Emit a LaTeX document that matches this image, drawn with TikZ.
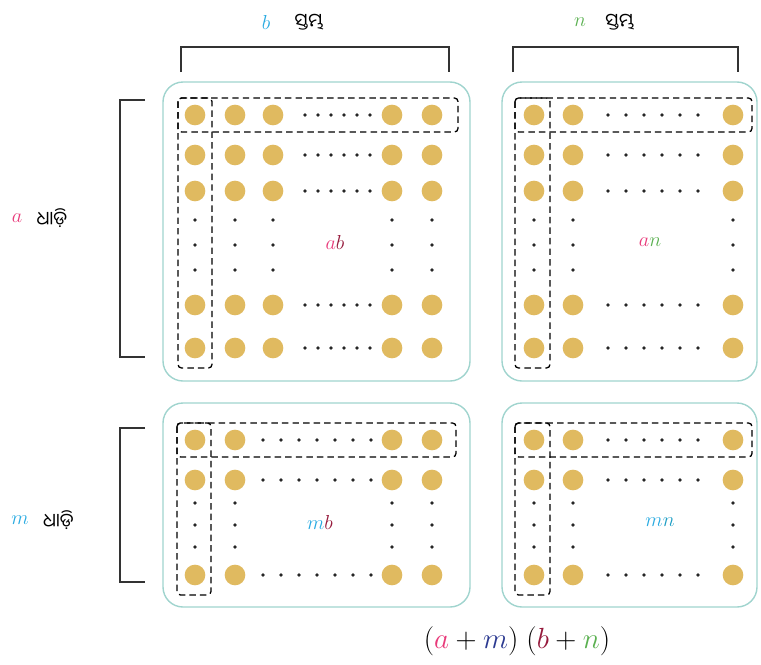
\documentclass[tikz,border=0pt]{standalone}
\usepackage{amsmath, amssymb}
\usepackage{xcolor}
\usepackage{fontspec}
\usepackage{tikz}
\usetikzlibrary{positioning}
\newfontfamily\odiafont[Script=Oriya]{Noto Sans Oriya UI}
\definecolor{tealline}{RGB}{160, 212, 206}
\definecolor{goldfill}{RGB}{224, 186, 96}
\definecolor{pinka}{RGB}{232, 58, 122}
\definecolor{cyanb}{RGB}{40, 170, 225}
\definecolor{greenn}{RGB}{90, 176, 80}
\definecolor{redb}{RGB}{150, 26, 60}
\definecolor{bluem}{RGB}{43, 57, 144}

\begin{document}
\begin{tikzpicture}[x=0.03cm, y=-0.03cm,
   panel/.style={draw=tealline, line width=1.2pt, rounded corners=0.6cm},
   bead/.style={circle, fill=goldfill, inner sep=0pt, minimum size=0.62cm},
   speck/.style={circle, fill=black!85, inner sep=0pt, minimum size=0.11cm},
   strip/.style={draw=black, line width=1.1pt, dash pattern=on 5.5pt off 3.5pt, rounded corners=3pt},
   brace/.style={draw=black!80, line width=1.1pt},
   var/.style={font=\fontsize{18}{21}\selectfont, inner sep=1pt},
   odia/.style={font=\odiafont\fontsize{16}{19}\selectfont, inner sep=1pt}]
  \useasboundingbox (0,0) rectangle (761,664);

  % panels
  \draw[panel] (163,82) rectangle (470,381);
  \draw[panel] (502,82) rectangle (757,381);
  \draw[panel] (163,403) rectangle (470,607);
  \draw[panel] (502,403) rectangle (757,607);

  % top braces and labels
  \draw[brace] (181,72) -- (181,47) -- (449,47) -- (449,72);
  \draw[brace] (513,72) -- (513,47) -- (738,47) -- (738,72);
  \node[var, text=cyanb] (lb) at (266,22) {$b$};
  \node[odia, right=0.65cm of lb] (colb) {ସ୍ତମ୍ଭ};
  \node[var, text=greenn] (ln) at (580,22) {$n$};
  \node[odia, right=0.5cm of ln] (coln) {ସ୍ତମ୍ଭ};

  % left braces and labels
  \draw[brace] (145,100) -- (120,100) -- (120,357) -- (145,357);
  \draw[brace] (145,428) -- (120,428) -- (120,582) -- (145,582);
  \node[var, text=pinka] (la) at (17,218) {$a$};
  \node[odia, right=0.35cm of la] (rowa) {ଧାଡ଼ି};
  \node[var, text=cyanb] (lm) at (20,520) {$m$};
  \node[odia, right=0.35cm of lm] (rowm) {ଧାଡ଼ି};

  % panel ab
  \foreach \x in {195,235,273,392,432}
    \foreach \y in {115,155,191,305,348}
      \node[bead] at (\x,\y) {};
  \foreach \y in {115,155,191,305,348}
    \foreach \x in {305,318,331,344,357,370}
      \node[speck] at (\x,\y) {};
  \foreach \x in {195,235,273,392,432}
    \foreach \y in {220,245,270}
      \node[speck] at (\x,\y) {};
  \draw[strip] (178,98) rectangle (458,132);
  \draw[strip] (178,98) rectangle (212,368);
  \node[var] (ab) at (335,242) {$\textcolor{pinka}{a}\textcolor{redb}{b}$};

  % panel an
  \foreach \x in {534,573,733}
    \foreach \y in {115,155,191,305,348}
      \node[bead] at (\x,\y) {};
  \foreach \y in {115,155,191,305,348}
    \foreach \x in {608,626,644,662,680,698}
      \node[speck] at (\x,\y) {};
  \foreach \x in {534,573,733}
    \foreach \y in {220,245,270}
      \node[speck] at (\x,\y) {};
  \draw[strip] (515,98) rectangle (752,132);
  \draw[strip] (515,98) rectangle (550,368);
  \node[var] (an) at (650,242) {$\textcolor{pinka}{a}\textcolor{greenn}{n}$};

  % panel mb
  \foreach \x in {195,235,392,432}
    \foreach \y in {440,480,575}
      \node[bead] at (\x,\y) {};
  \foreach \y in {440,480,575}
    \foreach \x in {263,281,299,317,335,353,371}
      \node[speck] at (\x,\y) {};
  \foreach \x in {195,235,392,432}
    \foreach \y in {503,525,547}
      \node[speck] at (\x,\y) {};
  \draw[strip] (177,423) rectangle (456,457);
  \draw[strip] (177,423) rectangle (211,595);
  \node[var] (mb) at (320,522) {$\textcolor{cyanb}{m}\textcolor{redb}{b}$};

  % panel mn
  \foreach \x in {534,573,733}
    \foreach \y in {440,480,575}
      \node[bead] at (\x,\y) {};
  \foreach \y in {440,480,575}
    \foreach \x in {608,626,644,662,680,698}
      \node[speck] at (\x,\y) {};
  \foreach \x in {534,573,733}
    \foreach \y in {503,525,547}
      \node[speck] at (\x,\y) {};
  \draw[strip] (515,423) rectangle (752,457);
  \draw[strip] (515,423) rectangle (550,595);
  \node[var] (mn) at (660,522) {$\textcolor{cyanb}{m}\textcolor{cyanb!70!teal}{n}$};

  % product
  \node[font=\fontsize{25}{30}\selectfont] (prod) at (517,641)
    {$(\textcolor{pinka}{a}+\textcolor{bluem}{m})\;(\textcolor{redb}{b}+\textcolor{greenn}{n})$};
\end{tikzpicture}
\end{document}
